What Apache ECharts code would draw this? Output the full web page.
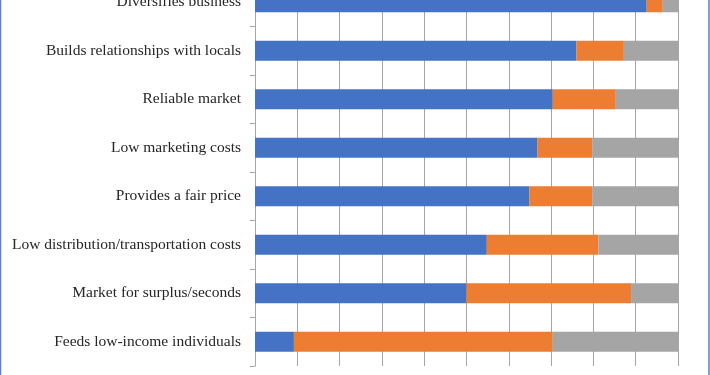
<!DOCTYPE html>
<html>
<head>
<meta charset="utf-8">
<script src="https://cdn.jsdelivr.net/npm/echarts@6/dist/echarts.min.js"></script>
<style>
  html, body { margin: 0; padding: 0; background: #fff; overflow: hidden; }
  /* the reference is cropped at the top, so the chart box starts above the window */
  #chart { width: 710px; height: 397px; margin-top: -22px; }
</style>
</head>
<body>
<div id="chart"></div>
<script>
// categories listed bottom to top (category axis on y starts at the bottom)
const categories = [
  'Feeds low-income individuals',
  'Market for surplus/seconds',
  'Low distribution/transportation costs',
  'Provides a fair price',
  'Low marketing costs',
  'Reliable market',
  'Builds relationships with locals',
  'Diversifies business'
];
const blueValues = [9.2, 50.0, 54.8, 64.9, 66.8, 70.4, 76.0, 92.6];
const orangeValues = [61.2, 38.9, 26.4, 14.8, 12.9, 14.9, 11.2, 3.8];
const grayValues = [29.6, 11.1, 18.8, 20.3, 20.3, 14.7, 12.8, 3.6];

const colors = ['#4472C4', '#ED7D31', '#A5A5A5'];

const chart = echarts.init(document.getElementById('chart'));

function barSeries(name, data, color) {
  return {
    name: name,
    type: 'bar',
    stack: 'total',
    barWidth: 20,
    itemStyle: { color: color },
    data: data
  };
}

const option = {
  animation: false,
  grid: {
    left: 255,
    right: 32,
    top: 0,
    bottom: 9,
    containLabel: false
  },
  xAxis: {
    type: 'value',
    min: 0,
    max: 100,
    interval: 10,
    axisLine: { show: false },
    axisTick: { show: false },
    axisLabel: { show: false },
    splitLine: { show: true, lineStyle: { color: '#A6A6A6', width: 1 } }
  },
  yAxis: {
    type: 'category',
    data: categories,
    axisLine: { show: true, lineStyle: { color: '#A6A6A6', width: 1 } },
    axisTick: { show: true, length: 5, lineStyle: { color: '#A6A6A6' } },
    axisLabel: {
      margin: 14,
      color: '#262626',
      fontFamily: '"Liberation Serif", "DejaVu Serif", serif',
      fontSize: 15.5
    }
  },
  series: [
    barSeries('Blue', blueValues, colors[0]),
    barSeries('Orange', orangeValues, colors[1]),
    barSeries('Gray', grayValues, colors[2])
  ],
  graphic: [
    {
      type: 'rect',
      shape: { x: 0.5, y: -5, width: 708.5, height: 420 },
      style: { fill: 'none', stroke: '#5082D2', lineWidth: 1.5 },
      silent: true
    }
  ]
};

chart.setOption(option);
</script>
</body>
</html>
